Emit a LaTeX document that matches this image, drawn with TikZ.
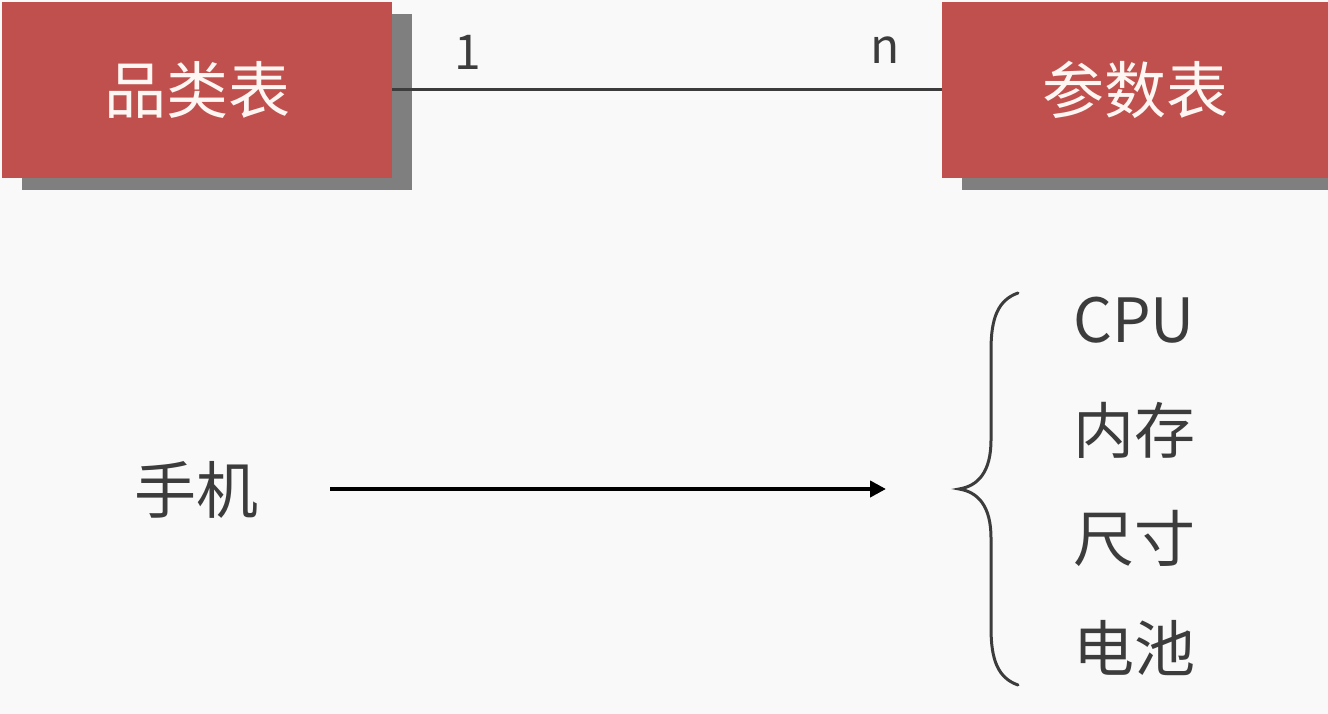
\documentclass[tikz,border=0pt]{standalone}
\usepackage{fontspec}
\setmainfont{Noto Sans CJK SC}
\usetikzlibrary{arrows.meta,shadows}
\definecolor{bgc}{HTML}{F8F9F8}
\definecolor{boxred}{HTML}{C0504D}
\definecolor{shadowc}{HTML}{7F7F7F}
\definecolor{inkc}{HTML}{3C3C3C}
\definecolor{boxtext}{HTML}{FDF6F2}
\tikzset{
  tbl/.style={fill=boxred, draw=none, text=boxtext, inner sep=0pt,
    minimum height=176pt, font=\fontsize{62}{70}\selectfont,
    drop shadow={shadow xshift=20pt, shadow yshift=-12pt, opacity=1, fill=shadowc}},
  rel/.style={draw=inkc, line width=3pt},
  card/.style={text=inkc, inner sep=0pt, font=\fontsize{48}{56}\selectfont},
  word/.style={text=inkc, inner sep=0pt, font=\fontsize{62}{70}\selectfont},
  item/.style={text=inkc, inner sep=0pt, anchor=base west, font=\fontsize{61}{70}\selectfont},
  arr/.style={draw=black, line width=4pt, -{Triangle[length=16pt,width=16pt]}},
  bracec/.style={draw=inkc, line width=3pt, line cap=round}
}
\begin{document}
\begin{tikzpicture}[x=1pt,y=-1pt]
\useasboundingbox (0,0) rectangle (1328,714);
\fill[bgc] (0,0) rectangle (1328,714);
\node[tbl, minimum width=390pt] (cat) at (197,90) {品类表};
\node[tbl, minimum width=386pt] (par) at (1135,90) {参数表};
\draw[rel] (cat.east) -- (par.west);
\node[card] (one) at (468,52) {1};
\node[card] (many) at (885,50) {n};
\node[word] (phone) at (196,490) {手机};
\coordinate (arrend) at (886,489);
\draw[arr, shorten <=72pt] (phone.east |- arrend) -- (arrend);
\draw[bracec] (1018,293) .. controls (998,300) and (991,318) .. (991,350)
  -- (991,440) .. controls (991,472) and (978,486) .. (959,489)
  .. controls (978,492) and (991,506) .. (991,538)
  -- (991,628) .. controls (991,660) and (998,678) .. (1018,685);
\node[item] (cpu) at (1073,342) {CPU};
\node[item] (mem) at (1073,453) {内存};
\node[item] (size) at (1073,561) {尺寸};
\node[item] (bat) at (1073,671) {电池};
\end{tikzpicture}
\end{document}
